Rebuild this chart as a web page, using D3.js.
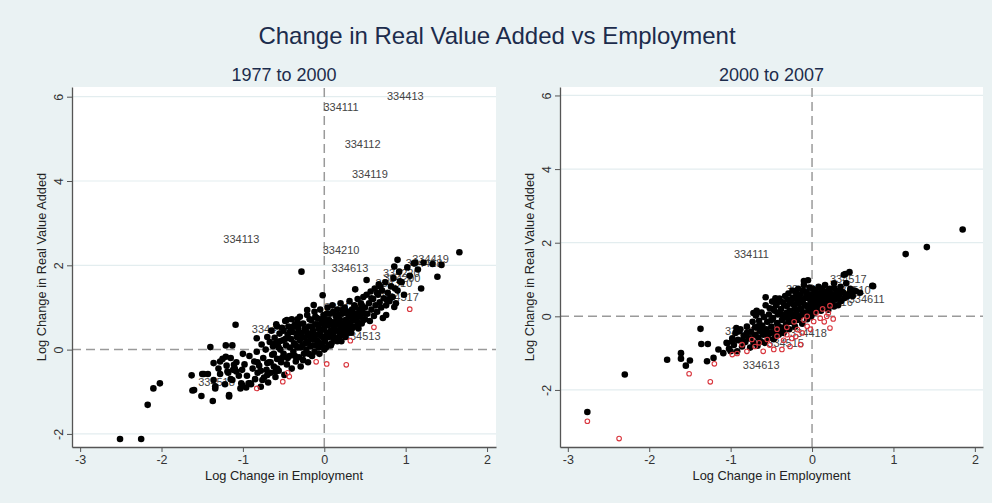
<!DOCTYPE html>
<html><head><meta charset="utf-8">
<script src="https://cdn.jsdelivr.net/npm/d3@7"></script>
<style>body{margin:0;background:#eaf2f3;} svg{display:block;font-family:"Liberation Sans",Arial,sans-serif;}</style>
</head><body><svg id="c" width="992" height="503"></svg>
<script>
const chartTitle = "Change in Real Value Added vs Employment";
const panelTitles = ["1977 to 2000", "2000 to 2007"];
const xAxisTitle = "Log Change in Employment";
const yAxisTitle = "Log Change in Real Value Added";
const xTicks = [-3, -2, -1, 0, 1, 2];
const yTicks = [-2, 0, 2, 4, 6];

// 1977-2000: [log change employment, log change real value added]
const black7700 = [
 [-2.51,-2.12],[-2.25,-2.12],[-2.17,-1.31],[-2.10,-0.92],[-2.02,-0.80],
 [-1.63,-0.61],[-1.62,-0.97],[-1.51,-1.10],[-1.50,-0.58],[-1.43,-0.58],[-1.37,-1.22],[-1.40,0.06],
 [-1.34,-0.92],[-1.36,-0.32],[-1.28,-0.28],[-1.21,0.10],[-1.13,0.10],[-1.21,-0.17],[-1.17,-1.08],
 [-1.09,0.59],[-1.12,-0.48],[-1.03,-0.92],[-0.93,-0.80],[-1.36,-0.72],[-1.34,-0.87],[-1.28,-0.58],
 [-1.15,-0.20],[-1.11,-0.36],[-1.01,-0.48],[-1.19,-0.52],[-1.08,-0.52],[-1.13,-0.72],[-1.01,-0.84],
 [-0.91,-0.80],[-1.17,-1.11],[-1.48,-0.58],[-1.60,-0.96],
 [-0.28,1.85],[-0.02,1.29],[0.38,1.43],[0.52,1.65],[0.90,2.13],[0.86,1.97],[1.66,2.31],[1.44,2.01],
 [1.39,1.73],[1.19,1.45],[1.12,2.06],[1.22,2.06],[1.33,2.03],[0.76,0.82],[0.86,1.01],[0.77,1.18],
 [0.69,1.49],[0.65,1.34],[0.58,1.22],[0.81,1.23],[0.87,1.45],[0.93,1.62],
 [-0.98,-0.35],[-0.95,-0.62],[-0.92,-0.15],[-0.90,-0.82],[-0.88,-0.45],[-0.86,-0.28],[-0.85,-0.70],
 [-0.83,-0.05],[-0.82,-0.55],[-0.80,-0.38],[-0.78,-0.88],[-0.77,0.12],[-0.75,-0.20],[-0.74,-0.66],
 [-0.72,0.00],[-0.71,-0.48],[-0.70,0.30],[-0.69,-0.78],[-0.68,-0.30],[-0.67,0.18],[-0.83,0.27],
 [-1.05,-0.62],[-1.08,-0.30],[-1.10,-0.45],[-1.15,-0.70],[-1.18,-0.55],[-1.20,-0.38],[-1.25,-0.22],
 [-1.22,-0.82],[-1.30,-0.45],[-1.00,-0.10],[-0.96,-0.90],[-1.02,-0.80],
 [-0.66,-0.55],[-0.65,0.45],[-0.64,-0.12],[-0.63,0.08],[-0.62,-0.40],[-0.61,0.28],[-0.60,-0.65],
 [-0.59,0.60],[-0.58,-0.22],[-0.57,0.15],[-0.56,-0.50],[-0.55,0.38],[-0.54,0.00],[-0.53,-0.30],
 [-0.52,0.52],[-0.51,0.22],[-0.50,-0.10],[-0.49,-0.60],[-0.48,0.68],[-0.47,0.10],[-0.46,-0.35],
 [-0.45,0.35],[-0.44,0.55],[-0.43,-0.15],[-0.42,0.05],[-0.41,0.25],[-0.40,-0.45],[-0.40,0.72],
 [-0.70,-0.32],[-0.60,-0.52],[-0.58,0.55],[-0.46,0.70],[-0.33,0.72],[-0.21,0.94],[-0.13,1.06],
 [-0.39,0.42],[-0.38,-0.05],[-0.37,0.15],[-0.36,0.60],[-0.35,-0.28],[-0.34,0.30],[-0.33,0.05],
 [-0.32,0.50],[-0.31,-0.18],[-0.30,0.22],[-0.30,0.78],[-0.29,-0.40],[-0.28,0.40],[-0.27,0.10],
 [-0.26,0.62],[-0.25,-0.10],[-0.24,0.28],[-0.23,0.48],[-0.22,0.00],[-0.21,0.82],[-0.20,0.18],
 [-0.20,-0.30],[-0.19,0.55],[-0.18,0.35],[-0.17,0.08],[-0.16,0.70],[-0.15,-0.15],[-0.14,0.45],
 [-0.13,0.25],[-0.12,0.90],[-0.12,-0.05],[-0.11,0.60],[-0.10,0.35],[-0.10,0.10],
 [-0.09,0.75],[-0.08,0.20],[-0.07,0.50],[-0.06,-0.10],[-0.05,0.40],[-0.05,0.95],[-0.04,0.10],
 [-0.03,0.62],[-0.02,0.30],[-0.01,0.82],[0.00,0.00],[0.00,0.50],[0.01,0.20],[0.02,0.70],[0.03,0.40],
 [0.04,1.00],[0.05,0.10],[0.05,0.58],[0.06,0.30],[0.07,0.85],[0.08,0.45],[0.09,0.15],[0.10,0.65],
 [0.10,1.05],[0.11,0.35],[0.12,0.55],[0.13,0.25],[0.14,0.80],[0.15,0.45],[0.16,0.95],[0.17,0.60],
 [0.18,0.30],[0.19,0.72],[0.20,0.50],[0.20,1.10],
 [0.21,0.20],[0.22,0.85],[0.23,0.62],[0.24,0.38],[0.25,1.00],[0.26,0.70],[0.27,0.45],[0.28,0.90],
 [0.29,0.55],[0.30,0.78],[0.31,1.15],[0.32,0.65],[0.33,0.40],[0.34,0.95],[0.35,0.75],[0.36,0.55],
 [0.37,1.05],[0.38,0.85],[0.40,0.68],[0.41,1.20],[0.42,0.50],[0.43,0.95],[0.44,0.78],[0.45,1.10],
 [0.46,0.62],[0.47,0.88],[0.48,1.25],[0.50,0.72],[0.50,1.00],
 [0.52,1.30],[0.53,0.85],[0.55,1.10],[0.56,0.68],[0.57,1.38],[0.58,0.95],[0.60,1.20],[0.61,0.80],
 [0.62,1.45],[0.63,1.05],[0.65,0.90],[0.66,1.30],[0.67,1.55],[0.68,1.12],[0.70,1.00],[0.71,1.40],
 [0.72,0.75],[0.73,1.22],[0.75,1.60],[0.76,1.05],[0.78,1.35],[0.80,1.15],[0.82,1.50],[0.84,1.25],
 [0.85,1.70],[0.88,1.10],[0.90,1.40],[0.92,1.85],[0.95,1.60],[0.98,1.30],[1.02,1.95],[1.05,1.75],
 [1.10,2.05],[1.15,1.90],
 [-0.55,0.20],[-0.50,0.45],[-0.48,0.25],[-0.45,-0.20],[-0.42,0.42],[-0.38,0.55],[-0.36,-0.15],
 [-0.35,0.10],[-0.33,0.38],[-0.31,0.60],[-0.29,0.05],[-0.27,0.30],[-0.26,-0.25],[-0.24,0.50],
 [-0.23,0.15],[-0.21,0.40],[-0.19,-0.10],[-0.18,0.72],[-0.17,0.25],[-0.15,0.55],[-0.14,0.10],
 [-0.13,0.38],[-0.11,0.78],[-0.09,0.22],[-0.08,0.60],[-0.07,0.05],[-0.06,0.35],[-0.04,0.72],
 [-0.03,0.15],[-0.02,0.48],[0.01,0.62],[0.02,0.05],[0.03,0.85],[0.04,0.30],[0.06,0.70],[0.07,0.40],
 [0.08,0.10],[0.09,0.60],[0.11,0.90],[0.12,0.25],[0.13,0.48],[0.15,0.70],[0.16,0.20],[0.17,0.82],
 [0.19,0.40],[0.21,0.60],[0.22,0.35],[0.23,0.95],[0.25,0.50],[0.26,0.30],[0.27,0.68],[0.29,0.85],
 [0.30,0.40],[0.31,0.62],[0.33,0.88],[0.34,0.50],[0.36,0.70],[0.38,1.00],[0.39,0.55],[0.41,0.80],
 [0.43,0.62],[0.45,0.90],[0.46,1.05],[0.48,0.70],[0.49,0.85],[-0.62,-0.10],[-0.60,0.15],
 [-0.58,-0.45],[-0.56,0.05],[-0.52,-0.20],[-0.70,-0.60],[-0.66,-0.30],[-0.78,-0.50],[-0.82,-0.30],
 [-0.76,-0.72]
];
const red7700 = [
 [-0.83,-0.92],[-0.51,-0.76],[-0.45,-0.55],[-0.43,-0.64],[-0.10,-0.29],[0.03,-0.34],[0.27,-0.36],
 [0.32,0.21],[0.61,0.53],[1.05,0.96]
];
const labels7700 = [
 ["334413",0.77,6.02],["334111",-0.01,5.75],["334112",0.25,4.87],["334119",0.34,4.17],
 ["334113",-1.24,2.62],["334210",-0.02,2.35],["334613",0.09,1.93],["334419",1.08,2.15],
 ["334418",1.00,2.04],["334220",0.72,1.81],["334290",0.73,1.70],["334310",0.63,1.57],
 ["334517",0.71,1.24],["334412",-0.89,0.48],["334513",0.24,0.33],["334518",-1.55,-0.77],
 ["334414",0.00,1.00]
];

// 2000-2007
const black0007 = [
 [1.85,2.36],[1.41,1.88],[1.15,1.69],[0.75,0.82],[0.46,1.20],[0.41,1.15],[0.39,1.13],[0.54,0.68],
 [0.47,0.68],[-0.05,0.98],[-0.10,0.96],[-0.57,0.52],[-0.45,0.49],[-0.69,0.10],[-1.37,-0.34],
 [-1.36,-0.75],[-1.28,-0.75],[-1.61,-1.00],[-1.61,-1.15],[-1.50,-1.20],[-1.55,-1.34],[-1.78,-1.18],
 [-2.30,-1.58],[-2.76,-2.60],[-1.29,-1.22],[-1.21,-1.13],[-1.09,-1.00],[-1.04,-0.73],[-1.00,-0.95],
 [-0.91,-0.64],[-0.93,-0.32],[-1.15,-0.90],[-0.98,-0.68],[-0.90,-0.41],[-0.72,0.09],[-0.68,0.15],
 [-0.43,0.37],[0.74,0.83],[0.59,0.64],[0.49,0.68],[0.43,0.54],[0.35,0.41],[0.27,0.27],[0.20,0.18],
 [0.14,0.32],[0.06,0.41],[0.10,0.54],[0.18,0.64],[0.27,0.77],
 [-1.05,-0.72],[-1.02,-0.88],[-0.98,-0.60],[-0.96,-0.78],[-0.94,-0.45],[-0.92,-0.95],[-0.90,-0.65],
 [-0.88,-0.35],[-0.86,-0.82],[-0.84,-0.52],[-0.82,-0.70],[-0.80,-0.28],[-0.78,-0.60],[-0.76,-0.85],
 [-0.75,-0.42],[-0.73,-0.15],[-0.72,-0.72],[-0.70,-0.50],[-0.69,0.02],[-0.68,-0.30],
 [-0.67,-0.80],[-0.66,-0.58],[-0.65,-0.12],[-0.64,-0.40],[-0.63,-0.68],[-0.62,0.10],[-0.61,-0.25],
 [-0.60,-0.50],[-0.59,-0.02],[-0.58,-0.72],[-0.57,0.30],[-0.56,-0.35],[-0.55,-0.15],[-0.54,-0.60],
 [-0.53,0.05],[-0.52,0.22],[-0.51,-0.45],[-0.50,-0.28],[-0.49,0.40],[-0.48,-0.05],[-0.47,-0.62],
 [-0.46,0.15],[-0.45,-0.38],[-0.44,0.30],[-0.43,-0.18],[-0.42,0.05],[-0.41,-0.50],[-0.40,0.48],
 [-0.39,-0.30],[-0.38,0.20],[-0.37,-0.10],[-0.36,0.38],[-0.35,-0.45],[-0.34,0.05],[-0.33,0.55],
 [-0.32,-0.22],[-0.31,0.28],[-0.30,-0.05],[-0.29,0.62],[-0.28,-0.35],[-0.27,0.15],[-0.26,0.42],
 [-0.25,-0.15],[-0.24,0.70],[-0.23,0.00],[-0.22,0.30],[-0.21,-0.28],[-0.20,0.50],[-0.19,0.12],
 [-0.18,-0.10],[-0.17,0.75],[-0.16,0.35],[-0.15,-0.02],[-0.14,0.60],[-0.13,0.20],[-0.12,-0.20],
 [-0.11,0.45],[-0.10,0.85],
 [-0.09,0.08],[-0.08,0.30],[-0.07,0.65],[-0.06,-0.08],[-0.05,0.50],[-0.04,0.18],[-0.03,0.78],
 [-0.02,0.35],[-0.01,0.00],[0.00,0.60],[0.01,0.25],[0.02,0.45],[0.03,0.10],[0.04,0.70],[0.05,0.35],
 [0.06,0.55],[0.07,0.20],[0.08,0.80],[0.09,0.40],[0.10,0.60],[0.11,0.15],[0.12,0.48],[0.13,0.72],
 [0.14,0.30],[0.15,0.55],[0.16,0.85],[0.17,0.40],[0.18,0.65],[0.19,0.22],[0.20,0.50],
 [0.22,0.75],[0.24,0.35],[0.25,0.60],[0.27,0.90],[0.28,0.45],[0.30,0.70],[0.32,0.30],[0.33,0.55],
 [0.35,0.80],[0.36,0.42],[0.38,0.65],[0.40,0.50],[0.42,0.90],[0.44,0.60],[0.47,0.75],[0.50,0.55],
 [0.52,0.70],
 [-0.60,-0.35],[-0.55,-0.50],[-0.50,-0.10],[-0.48,0.20],[-0.45,-0.50],[-0.42,-0.25],[-0.40,0.10],
 [-0.38,-0.40],[-0.36,0.00],[-0.34,0.30],[-0.33,-0.30],[-0.31,0.10],[-0.30,0.45],[-0.28,-0.15],
 [-0.27,0.35],[-0.25,0.05],[-0.24,0.50],[-0.22,-0.10],[-0.21,0.20],[-0.20,0.65],[-0.19,0.35],
 [-0.17,0.00],[-0.16,0.50],[-0.15,0.20],[-0.13,0.40],[-0.12,0.05],[-0.11,0.70],[-0.09,0.30],
 [-0.08,0.50],[-0.07,0.10],[-0.05,0.25],[-0.04,0.60],[-0.03,0.05],[-0.02,0.45],[0.00,0.30],
 [0.01,0.75],[0.02,0.15],[0.04,0.50],[0.05,0.20],[0.07,0.62],[0.08,0.35],[0.10,0.25],[0.11,0.75],
 [0.12,0.40],[0.14,0.60],[0.16,0.50],[0.18,0.30],[0.20,0.70],[0.22,0.45],[0.24,0.60],[0.26,0.50],
 [0.29,0.60],[0.31,0.50],[0.34,0.65],[-0.65,-0.25],[-0.70,-0.30],[-0.75,-0.60],[-0.80,-0.45],
 [-0.85,-0.65]
];
const red0007 = [
 [-2.76,-2.85],[-2.37,-3.32],[-1.51,-1.56],[-1.25,-1.78],[-1.20,-1.29],[0.22,-0.32],[0.26,-0.07],
 [-0.98,-1.04],[-0.92,-1.01],[-0.86,-0.77],[-0.80,-0.95],[-0.74,-0.63],[-0.70,-0.82],[-0.60,-0.95],
 [-0.55,-0.63],[-0.47,-0.90],[-0.43,-0.54],[-0.37,-0.90],[-0.31,-0.50],[-0.31,-0.30],[-0.27,-0.82],
 [-0.43,-0.35],[-0.18,-0.36],[-0.14,-0.77],[-0.06,-0.27],[-0.06,0.00],[0.02,-0.14],[0.10,-0.05],
 [0.18,0.00],[0.20,0.09],[0.22,0.29],[-0.22,-0.15],[-0.12,-0.45],[-0.25,-0.60],[-0.52,-0.78],
 [-0.65,-0.72],[0.05,0.10],[0.13,0.20],[-0.02,-0.35],[-0.35,-0.65],[-0.20,-0.55],[-0.10,-0.10],
 [0.15,-0.15]
];
const labels0007 = [
 ["334111",-0.96,1.68],["334517",0.22,1.00],["334510",0.27,0.71],["334611",0.45,0.47],
 ["334416",0.05,0.38],["334412",-0.32,0.73],["334418",-0.27,-0.47],["334515",-0.55,-0.74],
 ["334119",-1.07,-0.41],["334613",-0.85,-1.33]
];

const svg = d3.select("#c");
svg.append("rect").attr("width",992).attr("height",503).attr("fill","#eaf2f3");
svg.append("text").attr("x",497).attr("y",44).attr("text-anchor","middle")
  .attr("font-size",24).attr("fill","#1c2c4c").text(chartTitle);

const fmt = d => String(d);

function panel(o){
  const x = d3.scaleLinear().domain(o.xd).range(o.xr);
  const y = d3.scaleLinear().domain(o.yd).range(o.yr);
  const g = svg.append("g");
  g.append("rect").attr("x",o.xr[0]).attr("y",o.yr[1]).attr("width",o.xr[1]-o.xr[0])
    .attr("height",o.yr[0]-o.yr[1]).attr("fill","#ffffff");
  g.selectAll("line.grid").data(yTicks.filter(d=>d!==0)).join("line").attr("class","grid")
    .attr("x1",o.xr[0]).attr("x2",o.xr[1]).attr("y1",d=>y(d)).attr("y2",d=>y(d))
    .attr("stroke","#e3edef").attr("stroke-width",1.2);
  g.append("line").attr("x1",x(0)).attr("x2",x(0)).attr("y1",o.yr[0]).attr("y2",o.yr[1])
    .attr("stroke","#9a9a9a").attr("stroke-width",1.5).attr("stroke-dasharray","9,5");
  g.append("line").attr("x1",o.xr[0]).attr("x2",o.xr[1]).attr("y1",y(0)).attr("y2",y(0))
    .attr("stroke","#9a9a9a").attr("stroke-width",1.5).attr("stroke-dasharray","9,5");
  g.selectAll("text.lab").data(o.labels).join("text").attr("class","lab")
    .attr("x",d=>x(d[1])).attr("y",d=>y(d[2])).attr("dy","0.35em")
    .attr("font-size",11).attr("fill","#444").text(d=>d[0]);
  g.selectAll("circle.b").data(o.black).join("circle").attr("class","b")
    .attr("cx",d=>x(d[0])).attr("cy",d=>y(d[1])).attr("r",3.3).attr("fill","#000");
  g.selectAll("circle.r").data(o.red).join("circle").attr("class","r")
    .attr("cx",d=>x(d[0])).attr("cy",d=>y(d[1])).attr("r",2.3).attr("fill","none")
    .attr("stroke","#d9363e").attr("stroke-width",1.1);
  const ax = g.append("g").attr("transform",`translate(0,${o.yr[0]})`)
    .call(d3.axisBottom(x).tickValues(xTicks).tickFormat(fmt).tickSize(5).tickSizeOuter(0).tickPadding(3));
  const ay = g.append("g").attr("transform",`translate(${o.xr[0]},0)`)
    .call(d3.axisLeft(y).tickValues(yTicks).tickFormat(fmt).tickSize(5).tickSizeOuter(0));
  [ax,ay].forEach(a=>{
    a.select(".domain").attr("stroke","#555").attr("stroke-width",1.3);
    a.selectAll(".tick line").attr("stroke","#555").attr("stroke-width",1);
    a.selectAll("text").attr("font-size",12.5).attr("fill","#333")
      .attr("font-family","'Liberation Sans',Arial,sans-serif");
  });
  ay.selectAll("text").attr("transform","rotate(-90)").attr("x",0).attr("y",-9)
    .attr("dy","0").style("text-anchor","middle");
  const cx = (o.xr[0]+o.xr[1])/2;
  svg.append("text").attr("x",cx).attr("y",81).attr("text-anchor","middle")
    .attr("font-size",18).attr("fill","#1c2c4c").text(o.title);
  svg.append("text").attr("x",cx).attr("y",480).attr("text-anchor","middle")
    .attr("font-size",12.8).attr("fill","#222").text(xAxisTitle);
  svg.append("text").attr("transform",`translate(${o.xr[0]-26},${(o.yr[0]+o.yr[1])/2}) rotate(-90)`)
    .attr("text-anchor","middle").attr("font-size",12.8).attr("fill","#222").text(yAxisTitle);
}

panel({xd:[-3.1,2.11], xr:[72,496], yd:[-2.31,6.23], yr:[447,87],
  black:black7700, red:red7700, labels:labels7700, title:panelTitles[0]});
panel({xd:[-3.096,2.10], xr:[560,983], yd:[-3.55,6.23], yr:[447,87],
  black:black0007, red:red0007, labels:labels0007, title:panelTitles[1]});
</script></body></html>
